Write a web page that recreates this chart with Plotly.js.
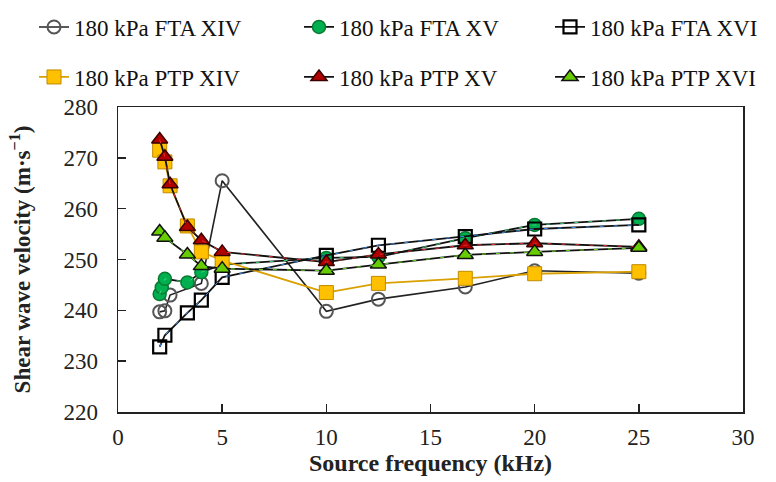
<!DOCTYPE html>
<html>
<head>
<meta charset="utf-8">
<script src="https://cdn.plot.ly/plotly-3.0.1.min.js"></script>
<style>html,body{margin:0;padding:0;background:#fff;}#chart{width:776px;height:482px;}</style>
</head>
<body>
<div id="chart"></div>
<script>
// Data (source frequency in kHz, shear wave velocity in m/s)
const names = ["180 kPa FTA XIV","180 kPa FTA XV","180 kPa FTA XVI","180 kPa PTP XIV","180 kPa PTP XV","180 kPa PTP XVI"];

const ftaXIV_x = [2, 2.25, 2.5, 4, 5, 10, 12.5, 16.67, 20, 25];
const ftaXIV_y = [239.7, 239.9, 243.0, 245.3, 265.5, 239.8, 242.2, 244.6, 247.8, 247.3];

const ftaXV_x = [2, 2.1, 2.25, 3.33, 4, 5, 10, 12.5, 16.67, 20, 25];
const ftaXV_y = [243.2, 244.5, 246.2, 245.5, 247.5, 249.0, 250.3, 250.5, 254.2, 256.8, 258.0];

const ftaXVI_x = [2, 2.25, 3.33, 4, 5, 10, 12.5, 16.67, 20, 25];
const ftaXVI_y = [232.8, 235.1, 239.5, 242.0, 246.5, 250.8, 252.8, 254.5, 256.0, 256.8];

const ptpXIV_x = [2, 2.25, 2.5, 3.33, 4, 5, 10, 12.5, 16.67, 20, 25];
const ptpXIV_y = [271.5, 269.2, 264.5, 256.6, 251.5, 249.8, 243.5, 245.3, 246.3, 247.2, 247.6];

const ptpXV_x = [2, 2.25, 2.5, 3.33, 4, 5, 10, 12.5, 16.67, 20, 25];
const ptpXV_y = [273.6, 270.2, 264.8, 256.4, 253.8, 251.5, 249.5, 251.0, 252.8, 253.2, 252.5];

const ptpXVI_x = [2, 2.25, 3.33, 4, 5, 10, 12.5, 16.67, 20, 25];
const ptpXVI_y = [255.5, 254.3, 251.0, 248.7, 248.2, 247.8, 249.0, 250.9, 251.5, 252.3];

const xTickVals = [0, 5, 10, 15, 20, 25, 30];
const yTickVals = [220, 230, 240, 250, 260, 270, 280];

const serif = "'Liberation Serif', 'DejaVu Serif', serif";

// faint coloured dashes that run along the black connecting lines in the original
function overlay(x, y, color) {
  return {type: "scatter", mode: "lines", x: x, y: y, showlegend: false, hoverinfo: "skip",
          line: {color: color, width: 1, dash: "4px,10px"}};
}

const traces = [
  {x: ftaXIV_x, y: ftaXIV_y, name: names[0], legend: "legend",
   line: {color: "#222", width: 1.6},
   marker: {symbol: "circle", size: 13, color: "rgba(255,255,255,0)", line: {color: "#555", width: 2}}},
  {x: ftaXV_x, y: ftaXV_y, name: names[1], legend: "legend2",
   line: {color: "#111", width: 1.8},
   marker: {symbol: "circle", size: 13, color: "#00b050", line: {color: "#0a7a30", width: 1.5}}},
  overlay(ftaXV_x, ftaXV_y, "#39d46a"),
  {x: ftaXVI_x, y: ftaXVI_y, name: names[2], legend: "legend3",
   line: {color: "#111", width: 1.8},
   marker: {symbol: "square", size: 13, color: "rgba(255,255,255,0)", line: {color: "#000", width: 2.2}}},
  overlay(ftaXVI_x, ftaXVI_y, "#3a8ee6"),
  {x: ptpXIV_x, y: ptpXIV_y, name: names[3], legend: "legend4",
   line: {color: "#d9a000", width: 1.8},
   marker: {symbol: "square", size: 14, color: "#ffc000", line: {color: "#c08a00", width: 1}}},
  {x: ptpXV_x, y: ptpXV_y, name: names[4], legend: "legend5",
   line: {color: "#111", width: 1.8},
   marker: {symbol: "triangle-up", size: 14, color: "#b00000", line: {color: "#3a0000", width: 1.5}}},
  overlay(ptpXV_x, ptpXV_y, "#e03030"),
  {x: ptpXVI_x, y: ptpXVI_y, name: names[5], legend: "legend6",
   line: {color: "#111", width: 1.8},
   marker: {symbol: "triangle-up", size: 14, color: "#66cc00", line: {color: "#111", width: 1.5}}},
  overlay(ptpXVI_x, ptpXVI_y, "#66dd22")
].map(t => Object.assign({type: "scatter", mode: "lines+markers"}, t));

// plot area in pixels: x 118..743, y 107..412
const PL = 118, PR = 743, PT = 107, PB = 412;
function px2x(px) { return (px - PL) / (PR - PL); }
function py2y(py) { return (PB - py) / (PB - PT); }
function leg(px, py) {
  return {x: px2x(px), y: py2y(py), xref: "paper", yref: "paper", xanchor: "left", yanchor: "middle",
          font: {family: serif, size: 23, color: "#111"}, bgcolor: "rgba(0,0,0,0)", borderwidth: 0};
}
const layout = {
  width: 776, height: 482,
  margin: {l: PL, r: 776 - PR, t: PT, b: 482 - PB, autoexpand: false},
  paper_bgcolor: "#fff", plot_bgcolor: "#fff",
  showlegend: true,
  legend:  leg(34, 27),
  legend2: leg(299, 27),
  legend3: leg(550, 27),
  legend4: leg(34, 77),
  legend5: leg(299, 77),
  legend6: leg(550, 77),
  xaxis: {
    range: [0, 30], tickvals: xTickVals, showgrid: false, zeroline: false,
    showline: true, linecolor: "#222", linewidth: 1.5, mirror: true,
    ticks: "inside", ticklen: 8, tickcolor: "#222", tickwidth: 1.5,
    ticklabelstandoff: 4,
    tickfont: {family: serif, size: 23, color: "#222"},
    title: {text: "<b>Source frequency (kHz)</b>", font: {family: serif, size: 24, color: "#222"}, standoff: 5}
  },
  yaxis: {
    range: [220, 280], tickvals: yTickVals, showgrid: false, zeroline: false,
    showline: true, linecolor: "#222", linewidth: 1.5, mirror: true,
    ticks: "inside", ticklen: 8, tickcolor: "#222", tickwidth: 1.5,
    ticklabelstandoff: 14,
    tickfont: {family: serif, size: 23, color: "#222"},
    title: {text: "<b>Shear wave velocity (m·s<sup>−1</sup>)</b>", font: {family: serif, size: 23, color: "#222"}, standoff: 26}
  }
};

Plotly.newPlot("chart", traces, layout, {displayModeBar: false, staticPlot: true});
</script>
</body>
</html>
